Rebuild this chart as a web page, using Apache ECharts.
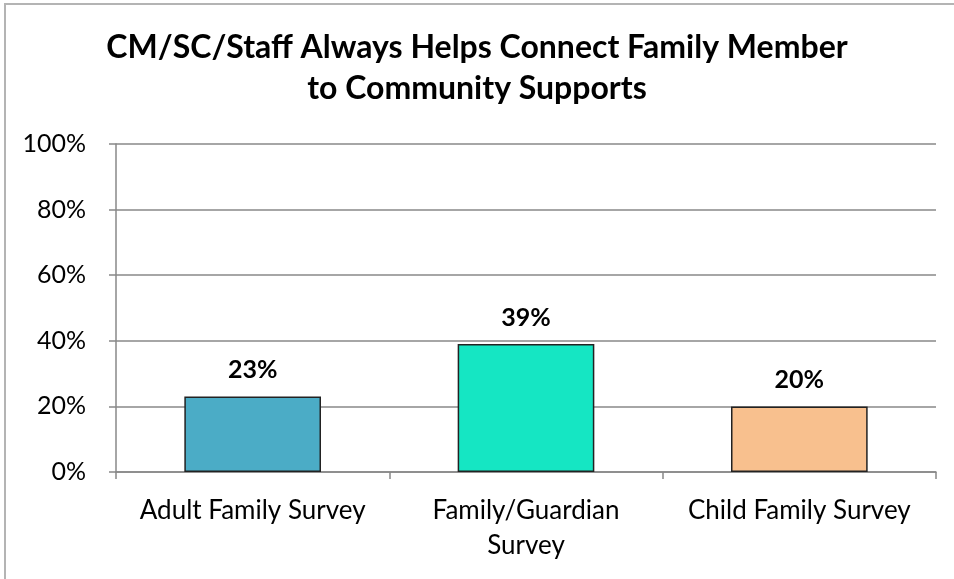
<!DOCTYPE html>
<html>
<head>
<meta charset="utf-8">
<script src="https://cdn.jsdelivr.net/npm/echarts@6/dist/echarts.min.js"></script>
<style>
  html, body { margin: 0; padding: 0; background: #fff; }
  #chart { width: 954px; height: 579px; }
</style>
</head>
<body>
<div id="chart"></div>
<script>
// Survey categories and the share answering "always"
const categories = ['Adult Family Survey', 'Family/Guardian\nSurvey', 'Child Family Survey'];
const values = [23, 39, 20];
const barColors = ['#4BACC6', '#15E6C3', '#F8C08E'];
const yTicks = [0, 20, 40, 60, 80, 100];

const FONT = 'Lato, "Open Sans", "Liberation Sans", sans-serif';

const chart = echarts.init(document.getElementById('chart'));
chart.setOption({
  backgroundColor: '#fff',
  animation: false,
  title: {
    text: 'CM/SC/Staff Always Helps Connect Family Member\nto Community Supports',
    left: 'center',
    top: 22,
    padding: 5,
    textStyle: {
      fontFamily: FONT,
      fontSize: 32,
      fontWeight: 'bold',
      color: '#000',
      lineHeight: 41
    }
  },
  graphic: [{
    type: 'rect',
    shape: { x: 5, y: 4, width: 980, height: 620 },
    style: { fill: 'none', stroke: '#b4b4b4', lineWidth: 2 },
    silent: true
  }],
  grid: { left: 116, right: 18, top: 144, bottom: 107 },
  xAxis: {
    type: 'category',
    data: categories,
    axisLine: { lineStyle: { color: '#888', width: 1.5 } },
    axisTick: { show: true, length: 7, lineStyle: { color: '#888', width: 1.5 } },
    axisLabel: {
      interval: 0,
      hideOverlap: false,
      fontFamily: FONT,
      fontSize: 26,
      color: '#000',
      margin: 21,
      lineHeight: 35
    }
  },
  yAxis: {
    type: 'value',
    min: 0,
    max: 100,
    interval: 20,
    axisLine: { show: true, lineStyle: { color: '#888', width: 1.5 } },
    axisTick: { show: true, length: 7, inside: false, lineStyle: { color: '#888', width: 1.5 } },
    splitLine: { show: true, lineStyle: { color: '#888', width: 1.5 } },
    axisLabel: {
      fontFamily: FONT,
      fontSize: 25,
      color: '#000',
      margin: 30,
      formatter: v => (yTicks.includes(v) ? v + '%' : '')
    }
  },
  series: [{
    type: 'bar',
    barWidth: '50%',
    data: values.map((v, i) => ({
      value: v,
      itemStyle: { color: barColors[i], borderColor: '#222', borderWidth: 1.5 }
    })),
    label: {
      show: true,
      position: 'top',
      distance: 14,
      formatter: p => p.value + '%',
      fontFamily: FONT,
      fontSize: 25,
      fontWeight: 'bold',
      color: '#000'
    }
  }]
});
</script>
</body>
</html>
